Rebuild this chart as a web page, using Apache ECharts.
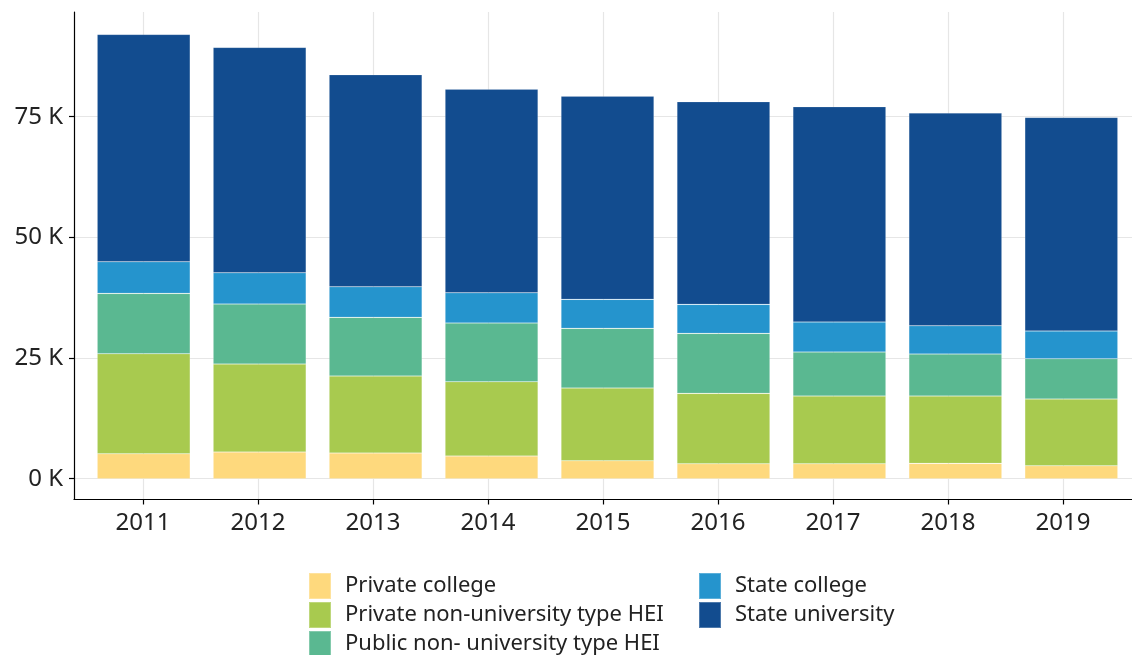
<!DOCTYPE html>
<html>
<head>
<meta charset="utf-8">
<script src="https://cdn.jsdelivr.net/npm/echarts@6/dist/echarts.min.js"></script>
<style>
  html, body { margin: 0; padding: 0; background: #fff; }
  #chart { width: 1132px; height: 655px; }
</style>
</head>
<body>
<div id="chart"></div>
<script>
// years on the x axis
var years = ['2011', '2012', '2013', '2014', '2015', '2016', '2017', '2018', '2019'];
// y ticks
var yTicks = [0, 25000, 50000, 75000];

// student numbers per institution type (stacked, bottom to top)
var privateCollege = [5180, 5530, 5320, 4700, 3730, 3110, 3110, 3180, 2690];
var privateNonUni = [20720, 18230, 15960, 15400, 15060, 14580, 14020, 13950, 13820];
var publicNonUni = [12500, 12430, 12160, 12160, 12370, 12430, 9120, 8700, 8350];
var stateCollege = [6560, 6490, 6340, 6270, 6010, 6010, 6210, 5870, 5740];
var stateUniversity = [47100, 46690, 43920, 42200, 42110, 41970, 44610, 44060, 44270];

var seriesNames = [
	'Private college',
	'Private non-university type HEI',
	'Public non- university type HEI',
	'State college',
	'State university'
];
var seriesValues = [privateCollege, privateNonUni, publicNonUni, stateCollege, stateUniversity];
var colors = ['#FED97D', '#A8CA4F', '#5AB891', '#2594CD', '#124C8F'];

var font = 'Noto Sans';
var textColor = '#222222';
var gridColor = '#e6e6e6';
var yMin = -4300, yMax = 96700;

var myChart = echarts.init(document.getElementById('chart'), null, { renderer: 'canvas' });

var xIdx = years.map(function (y, i) { return i; });

var legendBase = {
	orient: 'vertical',
	top: 567,
	height: 120,
	itemWidth: 22,
	itemHeight: 26,
	itemGap: 1,
	icon: 'rect',
	textStyle: { fontFamily: font, fontSize: 22, color: textColor, lineHeight: 26, padding: [0, 0, 0, 9] }
};

var option = {
	animation: false,
	backgroundColor: '#ffffff',
	color: colors,
	grid: [
		// axes, ticks and grid lines (0.6 band padding at both ends)
		{ left: 74, right: -9, top: 12, bottom: 155.5, containLabel: false },
		// bars
		{ left: 85.7, right: 2.7, top: 12, bottom: 155.5, containLabel: false }
	],
	xAxis: [
		{
			type: 'value',
			gridIndex: 0,
			min: -0.6,
			max: 8.6,
			axisLine: { show: true, onZero: false, lineStyle: { color: '#000', width: 1.2 } },
			axisTick: { show: true, length: 5, customValues: xIdx, lineStyle: { color: '#000', width: 1.2 } },
			axisLabel: {
				customValues: xIdx,
				margin: 12,
				fontFamily: font,
				fontSize: 24,
				color: textColor,
				formatter: function (v) { return years[Math.round(v)]; }
			},
			splitLine: { show: true, lineStyle: { color: gridColor, width: 1.2 } }
		},
		{
			type: 'category',
			gridIndex: 1,
			data: years,
			boundaryGap: true,
			axisLine: { show: false },
			axisTick: { show: false },
			axisLabel: { show: false },
			splitLine: { show: false }
		}
	],
	yAxis: [
		{
			type: 'value',
			gridIndex: 0,
			min: yMin,
			max: yMax,
			axisLine: { show: true, onZero: false, lineStyle: { color: '#000', width: 1.2 } },
			axisTick: { show: true, length: 5, customValues: yTicks, lineStyle: { color: '#000', width: 1.2 } },
			axisLabel: {
				customValues: yTicks,
				margin: 11,
				fontFamily: font,
				fontSize: 24,
				color: textColor,
				formatter: function (v) { return (v / 1000) + ' K'; }
			},
			splitLine: { show: true, lineStyle: { color: gridColor, width: 1.2 } }
		},
		{
			type: 'value',
			gridIndex: 1,
			min: yMin,
			max: yMax,
			show: false
		}
	],
	legend: [
		Object.assign({}, legendBase, { data: seriesNames.slice(0, 3), left: 303 }),
		Object.assign({}, legendBase, { data: seriesNames.slice(3), left: 693 })
	],
	series: seriesNames.map(function (name, k) {
		return {
			name: name,
			type: 'bar',
			xAxisIndex: 1,
			yAxisIndex: 1,
			stack: 'total',
			barWidth: 93,
			itemStyle: {
				color: colors[k],
				borderColor: 'rgba(255,255,255,0.25)',
				borderWidth: 0.6
			},
			data: seriesValues[k]
		};
	})
};

myChart.setOption(option);
window.addEventListener('resize', function () {
	myChart.resize();
});
</script>
</body>
</html>
